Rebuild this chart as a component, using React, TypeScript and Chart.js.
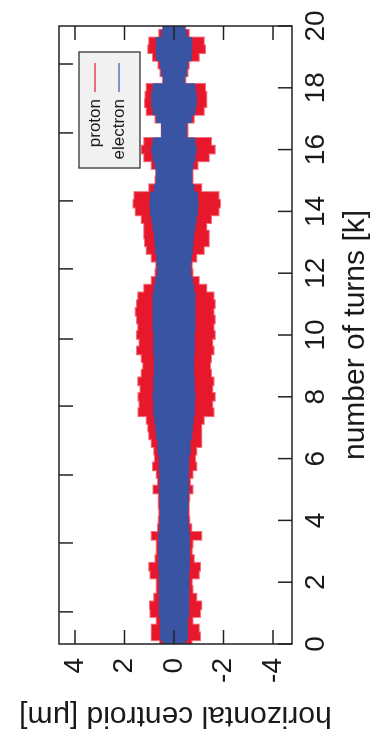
import React, { useEffect, useRef } from "react";
import { Chart, registerables } from "chart.js";

Chart.register(...registerables);

// number of turns [k] at which the envelope was read
const turns = [
  0, 0.25, 0.5, 0.75, 1, 1.25, 1.5, 1.75, 2, 2.25, 2.5, 2.75, 3, 3.25, 3.5, 3.75,
  4, 4.25, 4.5, 4.75, 5, 5.25, 5.5, 5.75, 6, 6.25, 6.5, 6.75, 7, 7.25, 7.5, 7.75,
  8, 8.25, 8.5, 8.75, 9, 9.25, 9.5, 9.75, 10, 10.25, 10.5, 10.75, 11, 11.25, 11.5, 11.75,
  12, 12.25, 12.5, 12.75, 13, 13.25, 13.5, 13.75, 14, 14.25, 14.5, 14.75, 15, 15.25, 15.5, 15.75,
  16, 16.25, 16.5, 16.75, 17, 17.25, 17.5, 17.75, 18, 18.25, 18.5, 18.75, 19, 19.25, 19.5, 19.75, 20,
];

// proton centroid envelope, positive side [µm]
const protonUpper = [
  0.57, 0.9, 0.9, 0.7, 0.95, 0.97, 0.8, 0.7, 0.7, 0.95, 1.0, 0.75, 0.7, 0.7, 0.9, 0.65,
  0.62, 0.6, 0.62, 0.62, 0.83, 0.65, 0.7, 0.85, 0.77, 0.8, 0.9, 1.0, 1.04, 1.1, 1.44, 1.4,
  1.44, 1.35, 1.45, 1.3, 1.24, 1.3, 1.5, 1.4, 1.5, 1.45, 1.5, 1.55, 1.5, 1.45, 1.2, 0.9,
  0.75, 0.72, 0.9, 1.1, 1.17, 1.2, 1.2, 1.3, 1.55, 1.64, 1.6, 1.0, 0.75, 0.72, 0.9, 1.2,
  1.3, 1.2, 0.5, 0.5, 0.75, 1.1, 1.17, 1.15, 1.1, 0.45, 0.55, 0.63, 0.85, 1.04, 1.0, 0.6, 0.45,
];

// proton centroid envelope, negative side [µm]
const protonLower = [
  -0.71, -1.05, -1.0, -0.75, -1.05, -1.1, -0.9, -0.75, -0.72, -1.0, -1.05, -0.8, -0.72, -0.75, -1.1, -0.7,
  -0.62, -0.6, -0.6, -0.62, -0.75, -0.65, -0.75, -0.9, -0.85, -0.9, -1.1, -1.1, -1.1, -1.2, -1.6, -1.55,
  -1.65, -1.55, -1.6, -1.5, -1.45, -1.5, -1.6, -1.55, -1.65, -1.6, -1.65, -1.6, -1.65, -1.6, -1.3, -1.0,
  -0.75, -0.72, -0.9, -1.2, -1.4, -1.4, -1.3, -1.5, -1.8, -1.86, -1.8, -1.1, -0.75, -0.75, -0.95, -1.4,
  -1.65, -1.5, -0.55, -0.55, -0.8, -1.2, -1.3, -1.3, -1.25, -0.45, -0.55, -0.6, -1.0, -1.25, -1.2, -0.6, -0.45,
];

// electron centroid envelope (half width) [µm]
const electronAmp = [
  0.45, 0.55, 0.55, 0.55, 0.6, 0.6, 0.6, 0.6, 0.6, 0.6, 0.62, 0.62, 0.62, 0.62, 0.62, 0.58,
  0.57, 0.55, 0.57, 0.57, 0.6, 0.58, 0.58, 0.6, 0.6, 0.65, 0.65, 0.72, 0.75, 0.78, 0.82, 0.82,
  0.85, 0.82, 0.82, 0.8, 0.8, 0.8, 0.82, 0.82, 0.82, 0.85, 0.85, 0.85, 0.85, 0.85, 0.8, 0.75,
  0.68, 0.68, 0.7, 0.75, 0.77, 0.8, 0.85, 0.9, 0.95, 0.97, 0.95, 0.8, 0.72, 0.72, 0.77, 0.85,
  0.9, 0.85, 0.5, 0.5, 0.7, 0.85, 0.9, 0.9, 0.85, 0.43, 0.5, 0.55, 0.7, 0.72, 0.72, 0.5, 0.43,
];

const xTickValues = [0, 2, 4, 6, 8, 10, 12, 14, 16, 18, 20];
const xMirrorTickValues = [1.04, 3.27, 5.47, 7.7, 9.87, 12.14, 14.34, 16.54, 18.77];
const yTickValues = [-4, -2, 0, 2, 4];
const seriesNames = ["proton", "electron"];
const xTitle = "number of turns [k]";
const yTitle = "horizontal centroid [\u03bcm]";

const RED = "rgb(232,24,44)";
const BLUE = "rgb(58,84,164)";
const FONT = "'Liberation Sans', Arial, Helvetica, sans-serif";
const INK = "#1a1a1a";

const framePlugin = {
  id: "gnuframe",
  afterDatasetsDraw(chart: any) {
    const { ctx, chartArea: a, scales } = chart;
    const xs = scales.x;
    const ys = scales.y;
    const L = 14;
    ctx.save();
    ctx.strokeStyle = "#222";
    ctx.lineWidth = 1.5;
    ctx.beginPath();
    for (const v of yTickValues) {
      const py = ys.getPixelForValue(v);
      ctx.moveTo(a.left, py);
      ctx.lineTo(a.left + L, py);
      ctx.moveTo(a.right, py);
      ctx.lineTo(a.right - L, py);
    }
    for (const v of xTickValues) {
      const px = xs.getPixelForValue(v);
      ctx.moveTo(px, a.bottom);
      ctx.lineTo(px, a.bottom - L);
    }
    for (const v of xMirrorTickValues) {
      const px = xs.getPixelForValue(v);
      ctx.moveTo(px, a.top);
      ctx.lineTo(px, a.top + L);
    }
    ctx.stroke();
    ctx.strokeRect(a.left, a.top, a.right - a.left, a.bottom - a.top);

    // legend box (gnuplot style: text right-aligned, sample to the right)
    const bx = a.right - 142;
    const by = a.top + 20;
    const bw = 116;
    const bh = 61;
    ctx.fillStyle = "#f1f1f1";
    ctx.fillRect(bx, by, bw, bh);
    ctx.lineWidth = 1.3;
    ctx.strokeStyle = "#333";
    ctx.strokeRect(bx, by, bw, bh);
    ctx.font = `17px ${FONT}`;
    ctx.textAlign = "right";
    ctx.textBaseline = "middle";
    const colors = [RED, BLUE];
    seriesNames.forEach((name, i) => {
      const ty = by + 16 + i * 24;
      ctx.fillStyle = INK;
      ctx.fillText(name, bx + 69, ty);
      ctx.strokeStyle = colors[i];
      ctx.lineWidth = 1.2;
      ctx.beginPath();
      ctx.moveTo(bx + 76, ty);
      ctx.lineTo(bx + 105, ty);
      ctx.stroke();
    });
    ctx.restore();
  },
};

export default function App() {
  const ref = useRef<HTMLCanvasElement>(null);

  useEffect(() => {
    if (!ref.current) return;
    const pts = (ys: number[]) => turns.map((t, i) => ({ x: t, y: ys[i] }));
    const chart = new Chart(ref.current, {
      type: "line",
      data: {
        datasets: [
          {
            label: seriesNames[1],
            data: pts(electronAmp),
            borderColor: BLUE,
            borderWidth: 1,
            backgroundColor: BLUE,
            pointRadius: 0,
            stepped: "middle",
            fill: false,
          },
          {
            label: seriesNames[1] + " low",
            data: pts(electronAmp.map((v) => -v)),
            borderColor: BLUE,
            borderWidth: 1,
            backgroundColor: BLUE,
            pointRadius: 0,
            stepped: "middle",
            fill: "-1",
          },
          {
            label: seriesNames[0],
            data: pts(protonUpper),
            borderColor: "rgba(232,24,44,0.6)",
            borderWidth: 2,
            backgroundColor: RED,
            pointRadius: 0,
            stepped: "middle",
            fill: false,
          },
          {
            label: seriesNames[0] + " low",
            data: pts(protonLower),
            borderColor: "rgba(232,24,44,0.6)",
            borderWidth: 2,
            backgroundColor: RED,
            pointRadius: 0,
            stepped: "middle",
            fill: "-1",
          },
        ],
      },
      options: {
        animation: false,
        responsive: false,
        devicePixelRatio: 1,
        layout: { padding: { left: 0, top: 59, right: 26, bottom: 0 } },
        plugins: { legend: { display: false }, tooltip: { enabled: false } },
        scales: {
          x: {
            type: "linear",
            min: 0,
            max: 20,
            afterBuildTicks: (s: any) => {
              s.ticks = xTickValues.map((v) => ({ value: v }));
            },
            afterFit: (s: any) => {
              s.height = 82;
            },
            grid: { display: false, drawTicks: false },
            border: { display: false },
            ticks: {
              padding: 7,
              autoSkip: false,
              maxRotation: 0,
              color: INK,
              font: { family: FONT, size: 28 },
              callback: (v: any) => String(v),
            },
            title: {
              display: true,
              text: xTitle,
              color: INK,
              font: { family: FONT, size: 30 },
              padding: { top: 0, bottom: 0 },
            },
          },
          y: {
            type: "linear",
            min: -4.77,
            max: 4.65,
            afterBuildTicks: (s: any) => {
              s.ticks = yTickValues.map((v) => ({ value: v }));
            },
            afterFit: (s: any) => {
              s.width = 97;
            },
            grid: { display: false, drawTicks: false },
            border: { display: false },
            ticks: {
              padding: 14,
              color: INK,
              font: { family: FONT, size: 28 },
              callback: (v: any) => String(v),
            },
            title: {
              display: true,
              text: yTitle,
              color: INK,
              font: { family: FONT, size: 30 },
              padding: { top: 8, bottom: 0 },
            },
          },
        },
      },
      plugins: [framePlugin],
    } as any);
    return () => chart.destroy();
  }, []);

  return (
    <div
      style={{
        position: "fixed",
        left: 0,
        top: 0,
        width: 374,
        height: 741,
        overflow: "hidden",
        background: "#fff",
      }}
    >
      <canvas
        ref={ref}
        width={741}
        height={374}
        style={{
          position: "absolute",
          left: 0,
          top: 0,
          width: 741,
          height: 374,
          transformOrigin: "0 0",
          transform: "translate(0px, 741px) rotate(-90deg)",
        }}
      />
    </div>
  );
}
